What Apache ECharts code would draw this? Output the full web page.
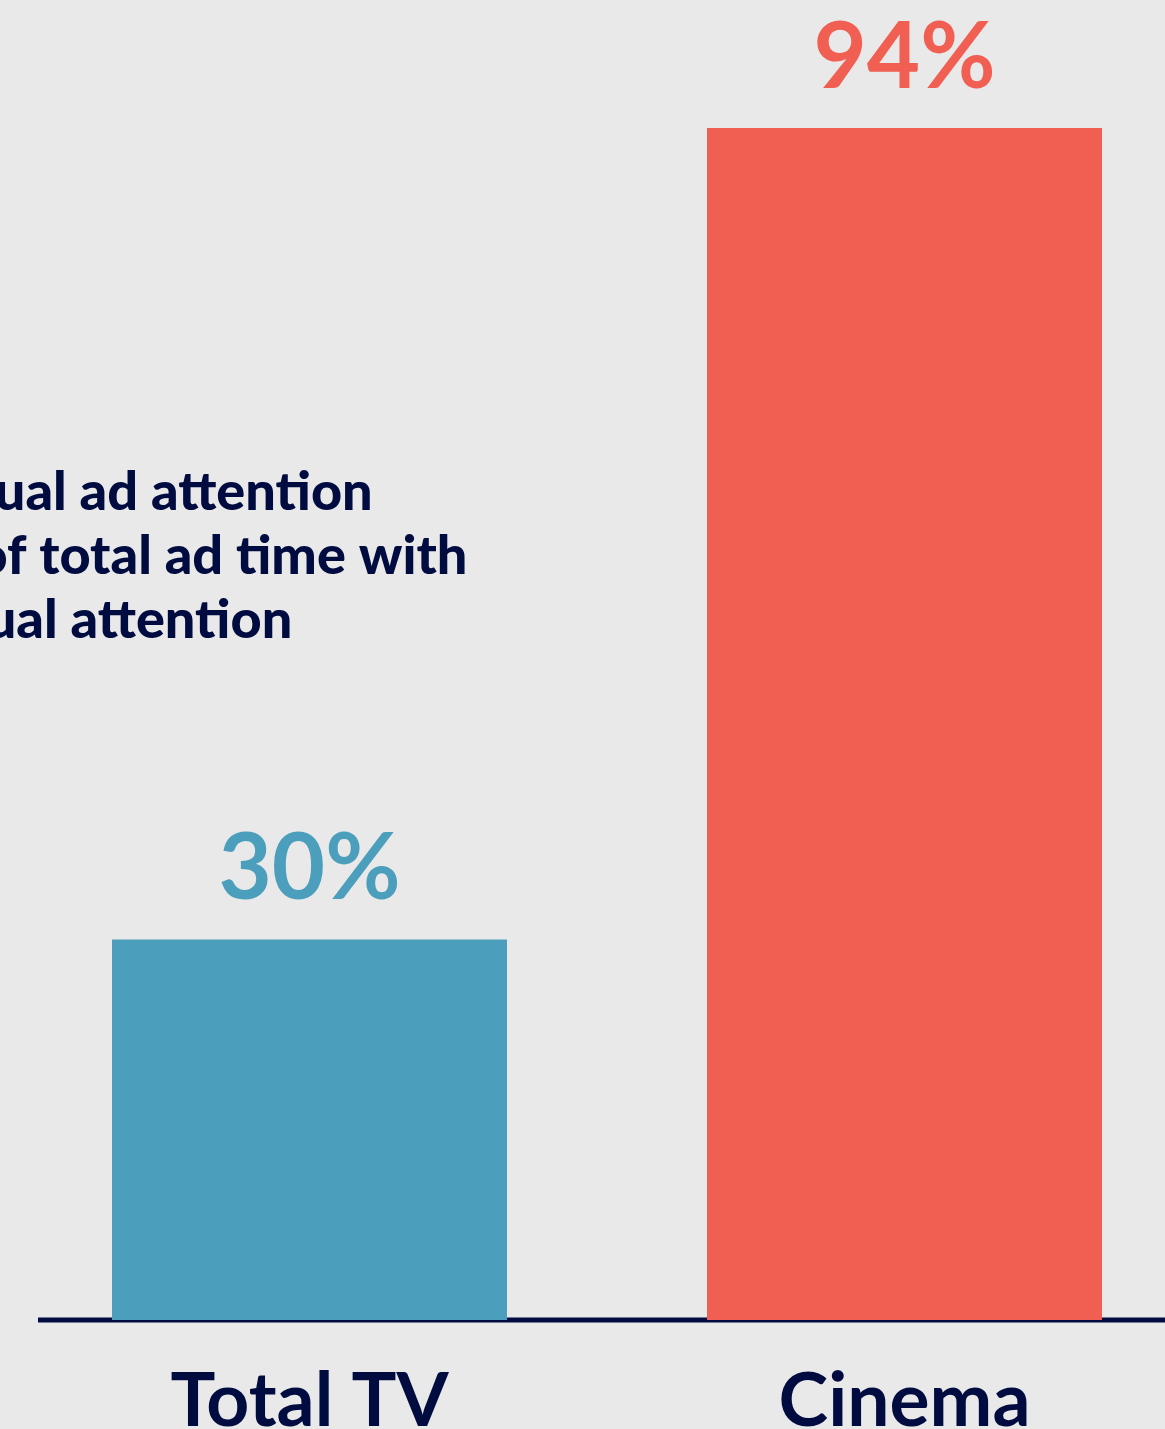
<!DOCTYPE html>
<html>
<head>
<meta charset="utf-8">
<script src="https://cdn.jsdelivr.net/npm/echarts@6/dist/echarts.min.js"></script>
<style>
  html, body { margin: 0; padding: 0; background: #e9e9e9; }
  #chart { width: 1165px; height: 1429px; }
</style>
</head>
<body>
<div id="chart"></div>
<script>
// Data
const categories = ['Total TV', 'Cinema'];
const values = [30, 94];
const barColors = ['#4c9fbc', '#f05f52'];
const noteLines = ['Visual ad attention', '% of total ad time with', 'visual attention'];

const navy = '#000c40';
const font = 'Lato, "Open Sans", sans-serif';

const chart = echarts.init(document.getElementById('chart'));
chart.setOption({
  backgroundColor: '#e9e9e9',
  animation: false,
  grid: { left: 12, width: 1190, top: 52, bottom: 109, containLabel: false, outerBoundsMode: 'none' },
  xAxis: {
    type: 'category',
    data: categories,
    axisLine: { show: false },
    axisTick: { show: false },
    axisLabel: {
      color: navy,
      fontFamily: font,
      fontWeight: 'bold',
      fontSize: 75,
      margin: 44
    }
  },
  yAxis: {
    type: 'value',
    min: 0,
    max: 100,
    show: false,
    splitLine: { show: false }
  },
  series: [{
    type: 'bar',
    barWidth: 395,
    data: values.map((v, i) => ({
      value: v,
      itemStyle: { color: barColors[i] },
      label: { color: barColors[i] }
    })),
    label: {
      show: true,
      position: 'top',
      distance: 24,
      formatter: '{c}%',
      fontFamily: font,
      fontWeight: 'bold',
      fontSize: 92
    }
  }],
  graphic: [
    {
      type: 'line',
      shape: { x1: 38, y1: 1320, x2: 1165, y2: 1320 },
      style: { stroke: navy, lineWidth: 5 }
    },
    {
      type: 'text',
      left: -81,
      top: 461,
      style: {
        text: noteLines.join('\n'),
        fill: navy,
        font: '900 54px ' + font,
        lineHeight: 64
      }
    }
  ]
});
</script>
</body>
</html>
